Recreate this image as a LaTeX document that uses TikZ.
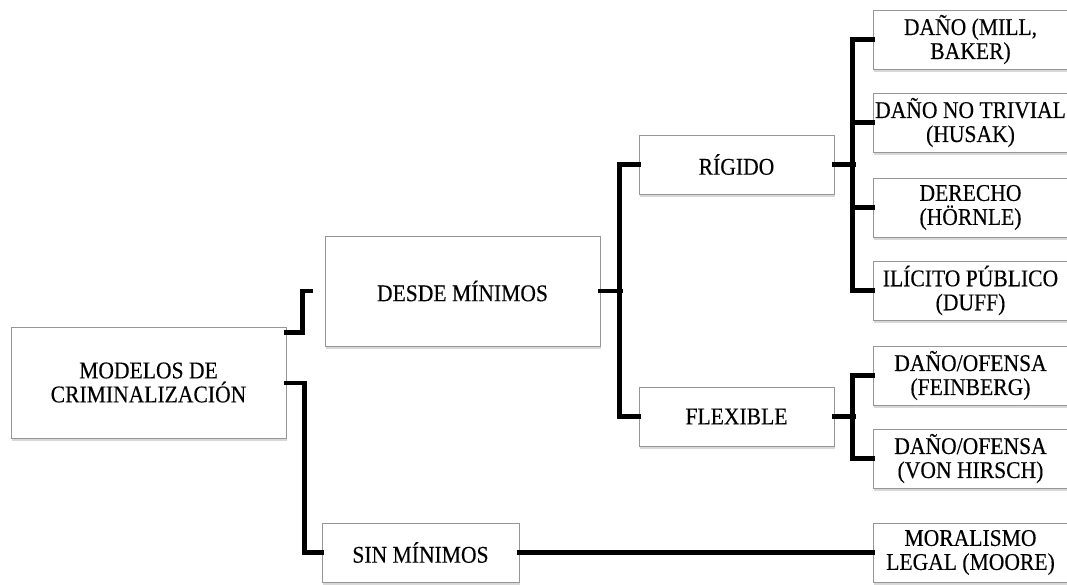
\documentclass[tikz,border=0pt]{standalone}
\usepackage{fontspec}
\setmainfont[FakeStretch=0.9, FakeBold=0.25]{Liberation Serif}
\usetikzlibrary{calc,shadows}

\definecolor{boxline}{RGB}{150,150,150}

\tikzset{
  box/.style={draw=boxline, line width=0.9pt, fill=white, align=center,
    inner sep=1pt, font=\fontsize{24}{24}\selectfont,
    drop shadow={shadow xshift=1pt, shadow yshift=-2.5pt, opacity=0.3}},
  bigbox/.style={box, minimum width=275pt, minimum height=111pt},
  midbox/.style={box, minimum width=195pt, minimum height=59pt},
  leafbox/.style={box, minimum width=195pt, minimum height=59pt},
  conn/.style={line width=4.5pt, line join=miter, line cap=rect}
}

\begin{document}
\begin{tikzpicture}[x=1pt, y=-1pt]
  \clip (0,0) rectangle (1067,584);
  \fill[white] (0,0) rectangle (1067,584);

  % root and first level
  \node[bigbox] (modelos) at (148.5,382.5) {MODELOS DE\\CRIMINALIZACIÓN};
  \node[bigbox, minimum height=110pt] (desde) at (462.5,291) {DESDE MÍNIMOS};
  \node[midbox, minimum width=197pt] (sin) at (420.5,552.5) {SIN MÍNIMOS};

  % second level
  \node[midbox] (rigido) at (736.5,164.5) {RÍGIDO};
  \node[midbox] (flexible) at (736.5,416.5) {FLEXIBLE};

  % leaves
  \node[leafbox] (d1) at (970.5,39.5) {DAÑO (MILL,\\BAKER)};
  \node[leafbox] (d2) at (970.5,122.5) {DAÑO NO TRIVIAL\\(HUSAK)};
  \node[leafbox] (d3) at (970.5,207.5) {DERECHO\\(HÖRNLE)};
  \node[leafbox] (d4) at (970.5,290.5) {ILÍCITO PÚBLICO\\(DUFF)};
  \node[leafbox] (f1) at (970.5,375.5) {DAÑO/OFENSA\\(FEINBERG)};
  \node[leafbox] (f2) at (970.5,458.5) {DAÑO/OFENSA\\(VON HIRSCH)};
  \node[leafbox] (m1) at (970.5,552.5) {MORALISMO\\LEGAL (MOORE)};

  % root connectors
  \coordinate (desdein) at ($(desde.west)+(-14,0)$);
  \draw[conn] ($(modelos.north east)+(0,6)$) -- ++(16,0) |- (desdein);
  \draw[conn] ($(modelos.east)+(0,0.5)$) -- ++(18,0) |- (sin.west);

  % desde mínimos branch
  \draw[conn] (desde.east) -- ++(20,0);
  \draw[conn] (rigido.west) -- ++(-19,0) |- (flexible.west);

  % rígido branch
  \draw[conn] (rigido.east) -- ++(19,0);
  \draw[conn] (d1.west) -- ++(-20,0) |- (d4.west);
  \draw[conn] (d2.west) -- ++(-20,0);
  \draw[conn] (d3.west) -- ++(-20,0);

  % flexible branch
  \draw[conn] (flexible.east) -- ++(19,0);
  \draw[conn] (f1.west) -- ++(-20,0) |- (f2.west);

  % sin mínimos branch
  \draw[conn] (sin.east) -- (m1.west);
\end{tikzpicture}
\end{document}
